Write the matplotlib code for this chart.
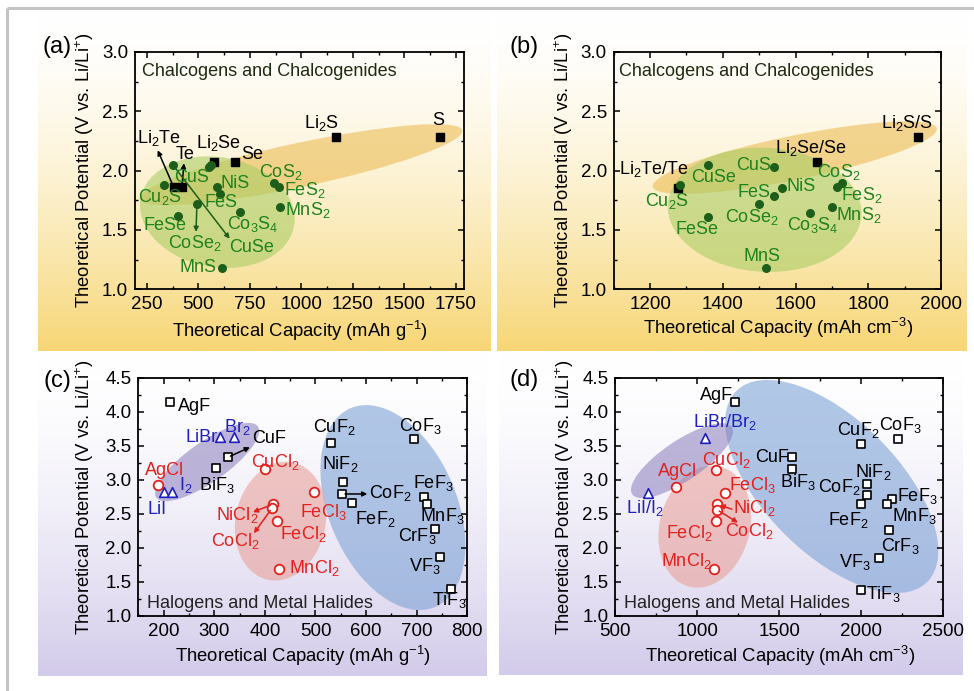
import re
import numpy as np
import matplotlib
matplotlib.use('Agg')
import matplotlib.pyplot as plt
from matplotlib.patches import Ellipse
from matplotlib import transforms

plt.rcParams['font.family'] = ['Liberation Sans', 'DejaVu Sans']
plt.rcParams['mathtext.fontset'] = 'custom'
plt.rcParams['mathtext.rm'] = 'Liberation Sans'
plt.rcParams['mathtext.it'] = 'Liberation Sans:italic'
plt.rcParams['mathtext.bf'] = 'Liberation Sans:bold'
plt.rcParams['mathtext.default'] = 'regular'

# ---------------- DATA ----------------
# (a) gravimetric, chalcogens
a_sq_names = ['Li2Te', 'Te', 'Li2Se', 'Se', 'Li2S', 'S']
a_sq_cap = [380, 420, 577, 678, 1167, 1675]
a_sq_pot = [1.86, 1.86, 2.07, 2.07, 2.28, 2.28]
a_ci_names = ['Cu2S', 'CuSe', 'FeSe', 'CoSe2', 'CuS', '', 'NiS', 'FeS', 'Co3S4',
              'CoS2', 'FeS2', 'MnS2', 'MnS']
a_ci_cap = [333, 375, 399, 493, 552, 562, 590, 606, 700, 865, 892, 897, 613]
a_ci_pot = [1.88, 2.05, 1.62, 1.72, 2.03, 2.05, 1.86, 1.80, 1.65, 1.90, 1.86, 1.69, 1.18]

# (b) volumetric, chalcogens
b_sq_names = ['Li2Te/Te', 'Li2Se/Se', 'Li2S/S']
b_sq_cap = [1276, 1658, 1937]
b_sq_pot = [1.855, 2.07, 2.28]
b_ci_names = ['Cu2S', 'CuSe', 'FeSe', 'CuS', 'FeS', 'NiS', 'CoSe2', 'MnS',
              'Co3S4', 'MnS2', 'CoS2', 'FeS2']
b_ci_cap = [1281, 1358, 1359, 1540, 1540, 1562, 1500, 1519, 1639, 1700, 1729, 1715]
b_ci_pot = [1.875, 2.05, 1.61, 2.03, 1.79, 1.855, 1.72, 1.18, 1.64, 1.69, 1.90, 1.86]

# (c) gravimetric, halides
c_sq_names = ['AgF', 'CuF', 'BiF3', 'CuF2', 'CoF3', 'NiF2', 'CoF2', 'FeF2', 'FeF3',
              'MnF3', 'CrF3', 'VF3', 'TiF3']
c_sq_cap = [213, 327, 304, 530, 694, 555, 553, 573, 714, 720, 737, 747, 767]
c_sq_pot = [4.14, 3.33, 3.17, 3.54, 3.60, 2.96, 2.79, 2.66, 2.74, 2.64, 2.28, 1.86, 1.40]
c_ci_names = ['AgCl', 'CuCl2', 'NiCl2', 'CoCl2', 'FeCl2', 'FeCl3', 'MnCl2']
c_ci_cap = [188, 401, 416, 414, 424, 497, 427]
c_ci_pot = [2.92, 3.16, 2.64, 2.58, 2.40, 2.82, 1.69]
c_tr_names = ['LiBr', 'Br2', 'LiI', 'I2']
c_tr_cap = [312, 340, 200, 217]
c_tr_pot = [3.63, 3.63, 2.82, 2.82]

# (d) volumetric, halides
d_sq_names = ['AgF', 'CuF', 'BiF3', 'CuF2', 'CoF3', 'NiF2', 'CoF2', 'FeF2', 'FeF3',
              'MnF3', 'CrF3', 'VF3', 'TiF3']
d_sq_cap = [1232, 1577, 1577, 2000, 2224, 2035, 2035, 2000, 2191, 2161, 2171, 2112, 2000]
d_sq_pot = [4.14, 3.33, 3.16, 3.53, 3.60, 2.94, 2.78, 2.65, 2.72, 2.64, 2.26, 1.85, 1.38]
d_ci_names = ['AgCl', 'CuCl2', 'FeCl3', 'NiCl2', 'CoCl2', 'FeCl2', 'MnCl2']
d_ci_cap = [868, 1114, 1167, 1120, 1120, 1112, 1100]
d_ci_pot = [2.90, 3.15, 2.81, 2.64, 2.56, 2.39, 1.68]
d_tr_names = ['LiBr/Br2', 'LiI/I2']
d_tr_cap = [1049, 697]
d_tr_pot = [3.61, 2.81]

# ---------------- STYLE ----------------
W, H = 974, 691
fig = plt.figure(figsize=(W / 100, H / 100), dpi=100)

GREEN_T = '#1e821e'
GREEN_M = '#1d5f1a'
RED = '#e3211c'
BLUE = '#1f1fbf'
FS = 13          # annotation labels
FS_TICK = 13.5   # tick labels
FS_AX = 13.3     # axis titles

# label offsets (pixels, y up) and alignment
a_lab = {'Li2Te': (-15, 44, 'center'), 'Te': (3, 28, 'center'), 'Li2Se': (4, 14, 'center'),
         'Se': (6, 3, 'left'), 'Li2S': (-14, 9, 'center'), 'S': (-2, 12, 'center'),
         'Cu2S': (-4, -17, 'center'), 'CuSe': (79, -87, 'center'), 'FeSe': (-13, -14, 'center'),
         'CoSe2': (-2, -44, 'center'), 'CuS': (-18, -15, 'center'), 'NiS': (4, -1, 'left'),
         'FeS': (1, -13, 'center'), 'Co3S4': (13, -17, 'center'), 'CoS2': (7, 6, 'center'),
         'FeS2': (5, -8, 'left'), 'MnS2': (5, -8, 'left'), 'MnS': (-5, -4, 'right')}
b_lab = {'Li2Te/Te': (-24, 14, 'center'), 'Cu2S': (-13, -21, 'center'), 'CuSe': (6, -17, 'center'),
         'CuS': (-3, -3, 'right'), 'FeS': (-3, -1, 'right'), 'NiS': (5, -3, 'left'),
         'CoSe2': (-7, -18, 'center'), 'FeSe': (-11, -17, 'center'), 'MnS': (-4, 7, 'center'),
         'Li2Se/Se': (-6, 9, 'center'), 'CoS2': (-4, 6, 'center'), 'FeS2': (24, -13, 'center'),
         'MnS2': (27, -13, 'center'), 'Co3S4': (3, -17, 'center'), 'Li2S/S': (-11, 9, 'center')}
c_lab = {'AgF': (8, -9, 'left'), 'LiBr': (-3, -5, 'right'), 'Br2': (3, 5, 'center'),
         'CuF': (24, 14, 'left'), 'BiF3': (1, -22, 'center'), 'AgCl': (7, 10, 'center'),
         'I2': (7, 2, 'left'), 'LiI': (-7, -22, 'center'), 'CuCl2': (10, 2, 'center'),
         'NiCl2': (-36, -16, 'center'), 'CoCl2': (-37, -38, 'center'), 'FeCl2': (26, -18, 'center'),
         'FeCl3': (9, -25, 'center'), 'MnCl2': (10, -4, 'left'), 'CuF2': (4, 11, 'center'),
         'CoF3': (7, 8, 'center'), 'NiF2': (-3, 13, 'center'), 'CoF2': (27, -4, 'left'),
         'FeF2': (23, -21, 'center'), 'FeF3': (10, 9, 'center'), 'MnF3': (16, -17, 'center'),
         'CrF3': (-18, -12, 'center'), 'VF3': (-16, -14, 'center'), 'TiF3': (-1, -17, 'center')}
d_lab = {'AgF': (-2, 2, 'right'), 'LiBr/Br2': (20, 11, 'center'), 'LiI/I2': (-3, -20, 'center'),
         'AgCl': (2, 10, 'center'), 'CuCl2': (10, 5, 'center'), 'FeCl3': (4, 3, 'left'),
         'NiCl2': (16, -9, 'left'), 'CoCl2': (32, -26, 'center'), 'FeCl2': (-26, -17, 'center'),
         'MnCl2': (-27, 3, 'center'), 'CuF': (-3, -5, 'right'), 'BiF3': (6, -18, 'center'),
         'CuF2': (-3, 9, 'center'), 'CoF3': (3, 9, 'center'), 'NiF2': (6, 7, 'center'),
         'CoF2': (-28, 3, 'center'), 'FeF2': (-13, -22, 'center'), 'FeF3': (5, -2, 'left'),
         'MnF3': (27, -17, 'center'), 'CrF3': (11, -21, 'center'), 'VF3': (-25, -9, 'center'),
         'TiF3': (5, -9, 'left')}

# arrows: name -> (end dx, dy, head at label end?, colour)
a_arr = {'Li2Te': (-16, 37, True, 'black'), 'Te': (2, 24, True, 'black'),
         'CuSe': (57, -74, True, GREEN_M), 'CoSe2': (-1, -28, True, GREEN_M)}
c_arr = {'CuF': (22, 10, True, 'black'), 'NiCl2': (-20, -8, True, RED),
         'CoCl2': (-18, -25, True, RED), 'CoF2': (25, 0, True, 'black')}
d_arr = {'NiCl2': (15, -5, False, RED), 'CoCl2': (21, -13, True, RED)}


def fmt(name):
    return re.sub(r'(\d)', r'$_{\1}$', name)


def px_axes(l, t, r, b):
    return fig.add_axes([l / W, 1 - b / H, (r - l) / W, (b - t) / H])


def ftext(x, y, s, **kw):
    fig.text(x / W, 1 - y / H, s, **kw)


# ---------------- BACKGROUND ----------------
bg = fig.add_axes([0, 0, 1, 1], zorder=-10)


def gradient(x0, x1, y0, y1, c_bot, power=1.6):
    t = np.linspace(0, 1, 256) ** power
    top = np.array([1.0, 1.0, 1.0])
    bot = np.array(matplotlib.colors.to_rgb(c_bot))
    img = (top[None, :] * (1 - t[:, None]) + bot[None, :] * t[:, None])[:, None, :]
    bg.imshow(img, extent=[x0, x1, y1, y0], aspect='auto', interpolation='bilinear')


gradient(38, 491, 10, 351, '#f7d675')
gradient(497, 967, 10, 351, '#f7d675')
gradient(38, 487, 353, 676, '#d3cbea')
gradient(499, 963, 353, 675, '#d3cbea')
bg.plot([7, W], [8, 8], color='#c4c4c4', lw=2.2, solid_capstyle='butt')
bg.plot([7, 7], [8, H], color='#c4c4c4', lw=2.2, solid_capstyle='butt')
bg.set_xlim(0, W)
bg.set_ylim(H, 0)
bg.axis('off')


def blob(ax, cx, cy, a, b, ang, color, alpha):
    tr = transforms.IdentityTransform() + transforms.ScaledTranslation(cx, cy, ax.transData)
    e = Ellipse((0, 0), 2 * a, 2 * b, angle=ang, transform=tr, facecolor=color,
                alpha=alpha, edgecolor='none', zorder=1)
    ax.add_patch(e)


def setup(ax, xlim, ylim, xmaj, ymaj, xmin, ymin):
    ax.set_facecolor('none')
    ax.set_xlim(*xlim)
    ax.set_ylim(*ylim)
    ax.set_xticks(xmaj)
    ax.set_yticks(ymaj)
    ax.set_xticks(xmin, minor=True)
    ax.set_yticks(ymin, minor=True)
    ax.tick_params(which='major', direction='in', length=4.5, width=1.1, labelsize=FS_TICK,
                   top=True, right=True, pad=5)
    ax.tick_params(which='minor', direction='in', length=2.5, width=1, top=True, right=True)
    for s in ax.spines.values():
        s.set_linewidth(1.3)


def label_points(ax, names, xs, ys, labs, color):
    for n, x, y in zip(names, xs, ys):
        if n not in labs:
            continue
        dx, dy, ha = labs[n]
        ax.annotate(fmt(n), (x, y), xytext=(dx, dy), textcoords='offset pixels',
                    ha=ha, va='baseline', fontsize=FS, color=color, zorder=6)


def arrows(ax, names, xs, ys, arr):
    for n, x, y in zip(names, xs, ys):
        if n not in arr:
            continue
        dx, dy, head_label, col = arr[n]
        ax.annotate('', xy=(x, y), xytext=(dx, dy), textcoords='offset pixels',
                    arrowprops=dict(arrowstyle='<|-' if head_label else '-|>', color=col,
                                    lw=1.1, mutation_scale=7, shrinkA=0, shrinkB=2),
                    zorder=5)


# ---------------- (a) ----------------
axa = px_axes(135, 52, 464, 289.3)
setup(axa, (192, 1790), (1.0, 3.0), [250, 500, 750, 1000, 1250, 1500, 1750],
      [1.0, 1.5, 2.0, 2.5, 3.0], np.arange(375, 1800, 250), np.arange(1.25, 3.0, 0.5))
blob(axa, 998, 2.05, 165, 22, 12, '#eab84a', 0.55)
blob(axa, 592, 1.65, 78, 55, -10, '#abcd66', 0.6)
axa.scatter(a_sq_cap, a_sq_pot, marker='s', s=32, color='black', zorder=4)
axa.scatter(a_ci_cap, a_ci_pot, marker='o', s=30, color=GREEN_M, zorder=4)
label_points(axa, a_sq_names, a_sq_cap, a_sq_pot, a_lab, 'black')
label_points(axa, a_ci_names, a_ci_cap, a_ci_pot, a_lab, GREEN_T)
arrows(axa, a_sq_names, a_sq_cap, a_sq_pot, a_arr)
arrows(axa, a_ci_names, a_ci_cap, a_ci_pot, a_arr)
axa.text(0.02, 0.898, 'Chalcogens and Chalcogenides', transform=axa.transAxes,
         fontsize=FS, color='#1e2a10', va='baseline')

# ---------------- (b) ----------------
axb = px_axes(613.7, 52, 941, 289.3)
setup(axb, (1100, 2000), (1.0, 3.0), [1200, 1400, 1600, 1800, 2000],
      [1.0, 1.5, 2.0, 2.5, 3.0], np.arange(1100, 2000, 200), np.arange(1.25, 3.0, 0.5))
blob(axb, 1598, 2.11, 145, 22, 11.6, '#eab84a', 0.55)
blob(axb, 1515, 1.67, 97, 62, -3, '#abcd66', 0.6)
axb.scatter(b_sq_cap, b_sq_pot, marker='s', s=32, color='black', zorder=4)
axb.scatter(b_ci_cap, b_ci_pot, marker='o', s=30, color=GREEN_M, zorder=4)
label_points(axb, b_sq_names, b_sq_cap, b_sq_pot, b_lab, 'black')
label_points(axb, b_ci_names, b_ci_cap, b_ci_pot, b_lab, GREEN_T)
axb.text(0.015, 0.898, 'Chalcogens and Chalcogenides', transform=axb.transAxes,
         fontsize=FS, color='#1e2a10', va='baseline')

# ---------------- (c) ----------------
axc = px_axes(138.3, 377.7, 467.3, 615.7)
setup(axc, (150, 800), (1.0, 4.5), [200, 300, 400, 500, 600, 700, 800],
      [1.0, 1.5, 2.0, 2.5, 3.0, 3.5, 4.0, 4.5], np.arange(150, 800, 100),
      np.arange(1.25, 4.5, 0.5))
blob(axc, 653, 2.59, 108, 64, -67, '#7ea3d6', 0.6)
blob(axc, 431, 2.39, 60, 45, 78, '#e9a29c', 0.6)
blob(axc, 286, 3.26, 62, 20, 35, '#8a7dbb', 0.55)
axc.scatter(c_sq_cap, c_sq_pot, marker='s', s=40, facecolor='white', edgecolor='black',
            linewidth=1.2, zorder=4)
axc.scatter(c_ci_cap, c_ci_pot, marker='o', s=48, facecolor='white', edgecolor=RED,
            linewidth=1.3, zorder=4)
axc.scatter(c_tr_cap, c_tr_pot, marker='^', s=48, facecolor='white', edgecolor=BLUE,
            linewidth=1.2, zorder=4)
label_points(axc, c_sq_names, c_sq_cap, c_sq_pot, c_lab, 'black')
label_points(axc, c_ci_names, c_ci_cap, c_ci_pot, c_lab, RED)
label_points(axc, c_tr_names, c_tr_cap, c_tr_pot, c_lab, BLUE)
arrows(axc, c_sq_names, c_sq_cap, c_sq_pot, c_arr)
arrows(axc, c_ci_names, c_ci_cap, c_ci_pot, c_arr)
axc.text(0.0255, 0.034, 'Halogens and Metal Halides', transform=axc.transAxes,
         fontsize=FS, color='#222222', va='baseline')

# ---------------- (d) ----------------
axd = px_axes(615.3, 377.7, 943, 615.7)
setup(axd, (500, 2500), (1.0, 4.5), [500, 1000, 1500, 2000, 2500],
      [1.0, 1.5, 2.0, 2.5, 3.0, 3.5, 4.0, 4.5], np.arange(750, 2500, 500),
      np.arange(1.25, 4.5, 0.5))
blob(axd, 1821, 2.90, 135, 67, -45, '#7ea3d6', 0.6)
blob(axd, 1046, 2.31, 62, 45, 75, '#e9a29c', 0.6)
blob(axd, 907, 3.28, 60, 20, 34, '#8a7dbb', 0.55)
axd.scatter(d_sq_cap, d_sq_pot, marker='s', s=40, facecolor='white', edgecolor='black',
            linewidth=1.2, zorder=4)
axd.scatter(d_ci_cap, d_ci_pot, marker='o', s=48, facecolor='white', edgecolor=RED,
            linewidth=1.3, zorder=4)
axd.scatter(d_tr_cap, d_tr_pot, marker='^', s=48, facecolor='white', edgecolor=BLUE,
            linewidth=1.2, zorder=4)
label_points(axd, d_sq_names, d_sq_cap, d_sq_pot, d_lab, 'black')
label_points(axd, d_ci_names, d_ci_cap, d_ci_pot, d_lab, RED)
label_points(axd, d_tr_names, d_tr_cap, d_tr_pot, d_lab, BLUE)
arrows(axd, d_ci_names, d_ci_cap, d_ci_pot, d_arr)
axd.text(0.026, 0.034, 'Halogens and Metal Halides', transform=axd.transAxes,
         fontsize=FS, color='#222222', va='baseline')

# ---------------- axis labels & panel letters ----------------
ylab = 'Theoretical Potential (V vs. Li/Li$^{+}$)'
xg = 'Theoretical Capacity (mAh g$^{-1}$)'
xv = 'Theoretical Capacity (mAh cm$^{-3}$)'
for (x, y) in [(85, 170), (85, 497), (564, 170), (564.5, 497)]:
    ftext(x, y, ylab, rotation=90, ha='center', va='center', fontsize=FS_AX)
ftext(300, 331, xg, ha='center', va='center', fontsize=FS_AX)
ftext(778.5, 327.5, xv, ha='center', va='center', fontsize=FS_AX)
ftext(303, 656, xg, ha='center', va='center', fontsize=FS_AX)
ftext(780, 655.5, xv, ha='center', va='center', fontsize=FS_AX)
for (x, y, s) in [(57, 53, '(a)'), (524, 53, '(b)'), (57.5, 387, '(c)'), (524, 386, '(d)')]:
    ftext(x, y, s, ha='center', va='baseline', fontsize=17)

fig.savefig('out.png', dpi=100)
